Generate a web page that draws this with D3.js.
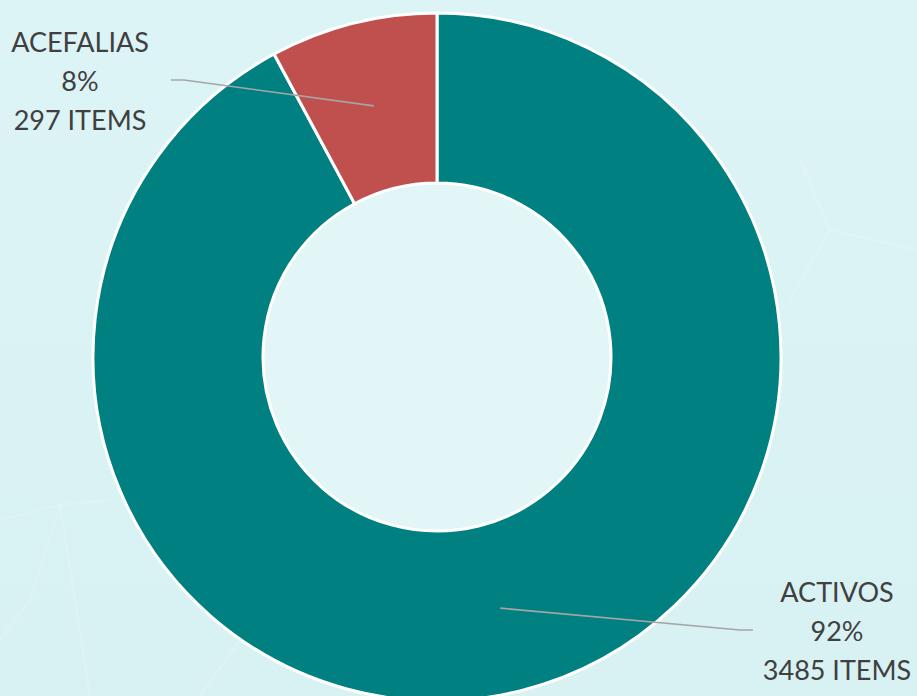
<!DOCTYPE html>
<html>
<head>
<meta charset="utf-8">
<script src="https://cdn.jsdelivr.net/npm/d3@7"></script>
<style>
  html, body { margin: 0; padding: 0; background: #dbf3f4; }
  svg { display: block; }
</style>
</head>
<body>
<svg id="chart" width="917" height="696"></svg>
<script>
// ---- data ----
const categories = ["ACTIVOS", "ACEFALIAS"];
const values = [3485, 297];
const percentLabels = ["92%", "8%"];
const itemLabels = ["3485 ITEMS", "297 ITEMS"];
const colors = ["#008080", "#c0504d"];

// ---- layout ----
const W = 917, H = 696;
const cx = 437, cy = 357;
const outerR = 344, innerR = 174;
// label anchor offsets relative to the chart centre (end of leader line), per slice
const labelAnchor = [{dx: 316, dy: 273, side: 1}, {dx: -266, dy: -277, side: -1}];

const svg = d3.select("#chart");

// background
const defs = svg.append("defs");
const grad = defs.append("linearGradient").attr("id", "bg").attr("x1", 0).attr("y1", 0).attr("x2", 0).attr("y2", 1);
grad.append("stop").attr("offset", "0%").attr("stop-color", "#dcf4f5");
grad.append("stop").attr("offset", "100%").attr("stop-color", "#d8f1f2");
svg.append("rect").attr("width", W).attr("height", H).attr("fill", "url(#bg)");

// faint network pattern
const net = svg.append("g").attr("stroke", "#ffffff").attr("stroke-opacity", 0.15).attr("stroke-width", 2.5).attr("fill", "none");
const netPaths = [
  [[0, 520], [60, 505], [110, 500]],
  [[60, 505], [30, 600], [0, 640]],
  [[60, 505], [90, 696]],
  [[200, 696], [240, 640]],
  [[800, 160], [830, 230], [790, 300]],
  [[830, 230], [917, 250]]
];
netPaths.forEach(p => net.append("path").attr("d", d3.line()(p)));

const g = svg.append("g").attr("transform", `translate(${cx},${cy})`);

// inner disc slightly lighter
g.append("circle").attr("r", innerR).attr("fill", "#e2f6f7");

const pie = d3.pie().sort(null).value(d => d);
const arcs = pie(values);
const arc = d3.arc().innerRadius(innerR).outerRadius(outerR);

g.selectAll("path.slice")
  .data(arcs)
  .join("path")
  .attr("class", "slice")
  .attr("d", arc)
  .attr("fill", (d, i) => colors[i])
  .attr("stroke", "#ffffff")
  .attr("stroke-width", 3)
  .attr("stroke-linejoin", "miter");

// leader lines
arcs.forEach((d, i) => {
  const c = arc.centroid(d);
  const a = labelAnchor[i];
  const elbow = [a.dx - a.side * 13, a.dy];
  g.append("path")
    .attr("d", d3.line()([c, elbow, [a.dx, a.dy]]))
    .attr("fill", "none")
    .attr("stroke", "#a6a6a6")
    .attr("stroke-width", 1.6);
});

// labels
const labelX = [84, -91];
const labelTop = [245, -305];
arcs.forEach((d, i) => {
  const a = labelAnchor[i];
  const tx = a.dx + labelX[i];
  const t = g.append("text")
    .attr("x", tx)
    .attr("y", labelTop[i])
    .attr("text-anchor", "middle")
    .attr("fill", "#404040")
    .style("font-family", "Lato, 'Open Sans', sans-serif")
    .style("font-size", "27px");
  [categories[i], percentLabels[i], itemLabels[i]].forEach((s, k) => {
    t.append("tspan").attr("x", tx).attr("dy", k === 0 ? 0 : 39).text(s);
  });
});
</script>
</body>
</html>
